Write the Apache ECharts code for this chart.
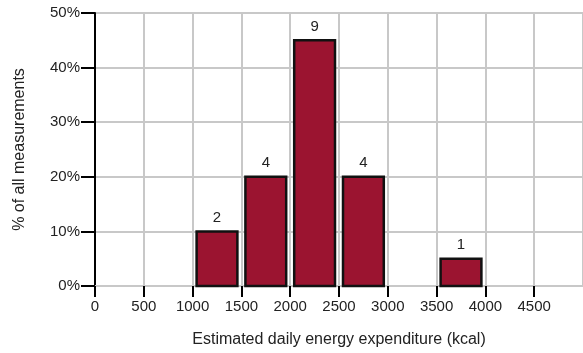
<!DOCTYPE html>
<html>
<head>
<meta charset="utf-8">
<script src="https://cdn.jsdelivr.net/npm/echarts@6/dist/echarts.min.js"></script>
<style>
  html, body { margin: 0; padding: 0; background: #fff; }
  #chart { width: 583px; height: 353px; }
</style>
</head>
<body>
<div id="chart"></div>
<script>
  // histogram bins (kcal), share of measurements (%) and counts
  var binStart = [1000, 1500, 2000, 2500, 3500];
  var binEnd = [1500, 2000, 2500, 3000, 4000];
  var percent = [10, 20, 45, 20, 5];
  var counts = [2, 4, 9, 4, 1];
  var yTicks = [0, 10, 20, 30, 40, 50];

  var chart = echarts.init(document.getElementById('chart'));

  var data = binStart.map(function (s, i) {
    return [s, binEnd[i], percent[i], counts[i]];
  });

  var font = 'Liberation Sans, Arial, sans-serif';

  var option = {
    animation: false,
    textStyle: { fontFamily: font },
    grid: { left: 95, right: 0, top: 13, bottom: 66, containLabel: false },
    xAxis: {
      type: 'value',
      min: 0,
      max: 5000,
      interval: 500,
      name: 'Estimated daily energy expenditure (kcal)',
      nameLocation: 'middle',
      nameGap: 46,
      nameTextStyle: { fontSize: 16, color: '#222' },
      axisLine: { show: true, lineStyle: { color: '#c8c8c8', width: 2 } },
      axisTick: { show: true, length: 11, lineStyle: { color: '#000', width: 2 } },
      axisLabel: {
        fontSize: 15, color: '#222', margin: 13, showMaxLabel: false,
        formatter: function (v) { return String(v); }
      },
      splitLine: { show: true, lineStyle: { color: '#c8c8c8', width: 2 } }
    },
    yAxis: {
      type: 'value',
      min: yTicks[0],
      max: yTicks[yTicks.length - 1],
      interval: 10,
      name: '% of all measurements',
      nameLocation: 'middle',
      nameGap: 67,
      nameTextStyle: { fontSize: 16, color: '#222' },
      axisLine: { show: true, lineStyle: { color: '#000', width: 2 } },
      axisTick: { show: true, length: 14, lineStyle: { color: '#000', width: 2 } },
      axisLabel: { fontSize: 15, color: '#222', margin: 15, formatter: '{value}%' },
      splitLine: { show: true, lineStyle: { color: '#c8c8c8', width: 2 } }
    },
    series: [{
      type: 'custom',
      data: data,
      encode: { x: [0, 1], y: 2 },
      renderItem: function (params, api) {
        var p0 = api.coord([api.value(0), api.value(2)]);
        var p1 = api.coord([api.value(1), 0]);
        var x = p0[0] + 4;
        var w = p1[0] - p0[0] - 8;
        return {
          type: 'group',
          children: [{
            type: 'rect',
            shape: { x: x, y: p0[1], width: w, height: p1[1] - p0[1] },
            style: { fill: '#9b1430', stroke: '#111', lineWidth: 2.5 }
          }, {
            type: 'text',
            style: {
              text: String(api.value(3)),
              x: x + w / 2,
              y: p0[1] - 6,
              textAlign: 'center',
              textVerticalAlign: 'bottom',
              fontSize: 15,
              fill: '#222',
              fontFamily: font
            }
          }]
        };
      }
    }]
  };

  chart.setOption(option);
</script>
</body>
</html>
